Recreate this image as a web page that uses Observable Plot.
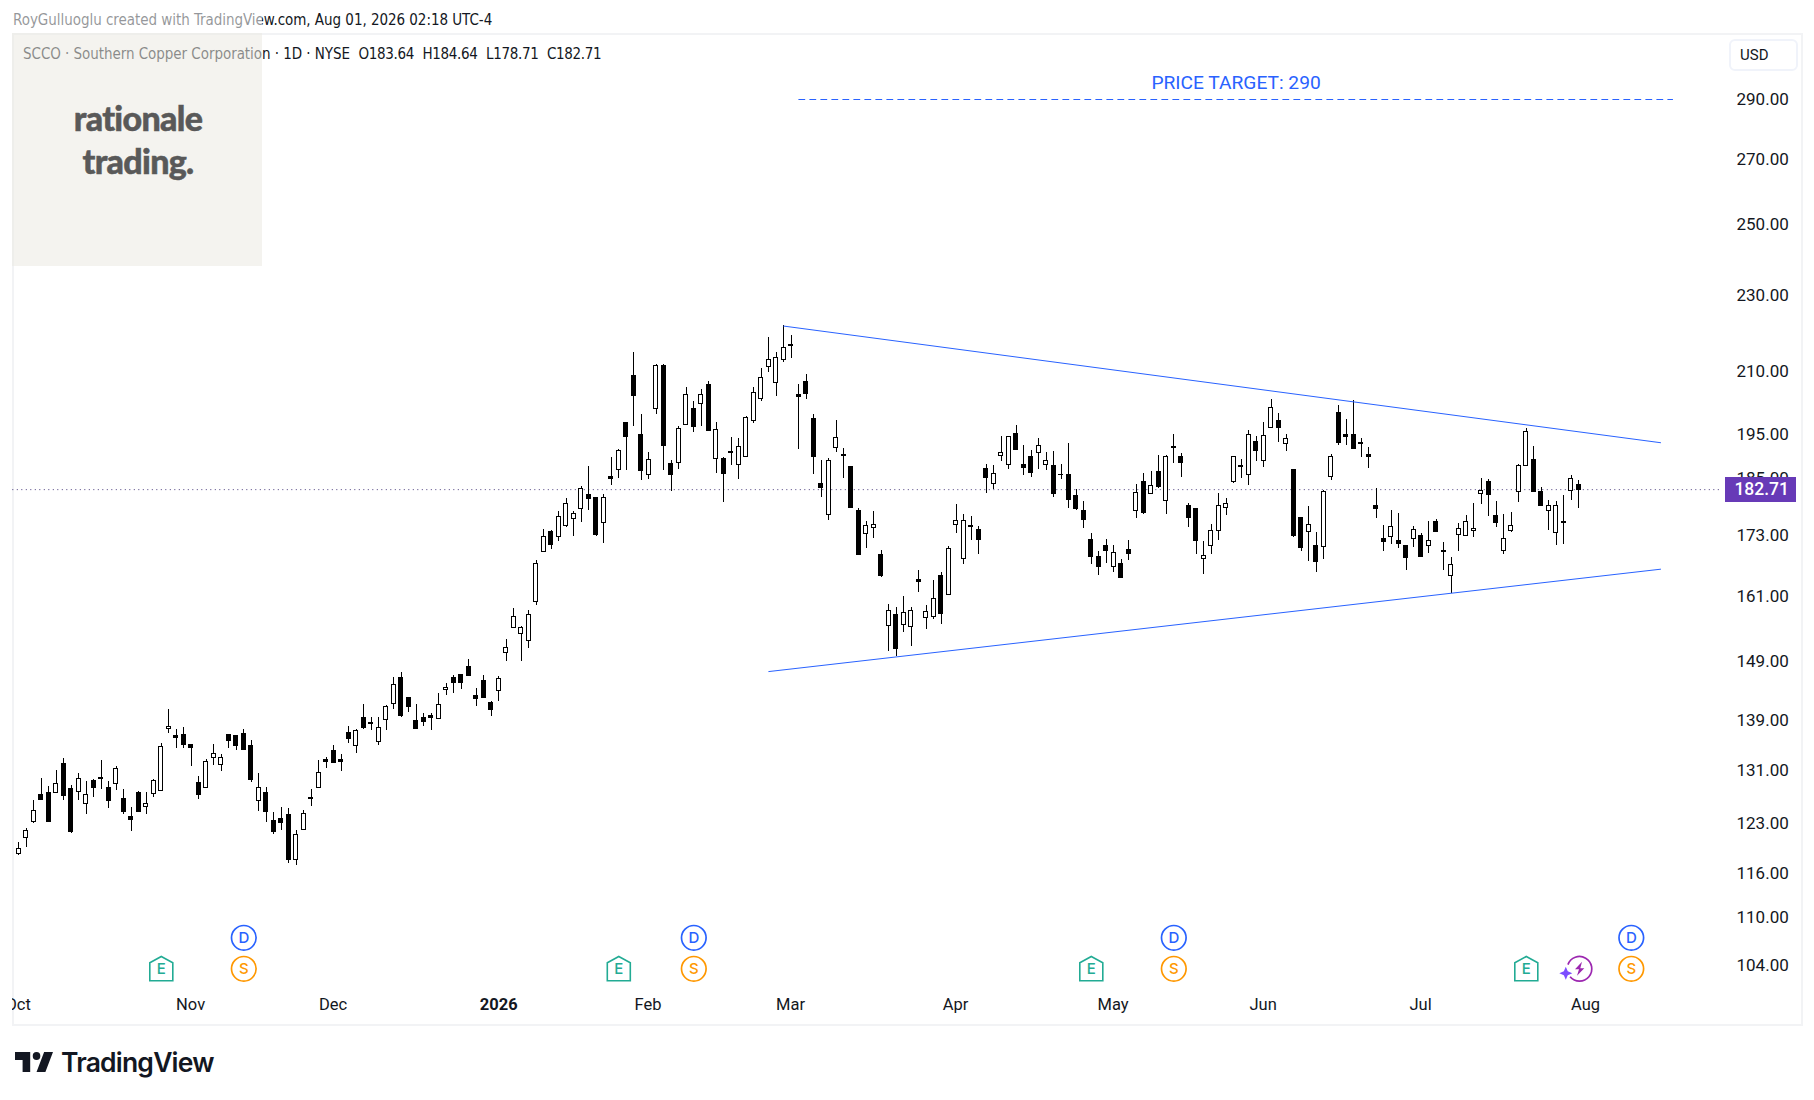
<!DOCTYPE html>
<html><head><meta charset="utf-8">
<script src="https://cdn.jsdelivr.net/npm/d3@7"></script>
<script src="https://cdn.jsdelivr.net/npm/@observablehq/plot@0.6"></script>
<style>
html,body{margin:0;padding:0;background:#fff;width:1814px;height:1100px;overflow:hidden}
#page{position:relative;width:1814px;height:1100px;font-family:Roboto,sans-serif;color:#131722}
#chart{position:absolute;left:0;top:0}
#chart svg{background:transparent;display:block}
.abs{position:absolute;white-space:nowrap}
#pane{position:absolute;left:12px;top:33px;width:1787px;height:989px;border:2px solid #f2f3f5}
#leftmask{position:absolute;left:0;top:980px;width:12px;height:50px;background:#fff}
.v{letter-spacing:-.33px}
</style></head><body><div id="page">
<div id="pane"></div><div id="chart"></div><div id="leftmask"></div>
<div class="abs" id="hdr" style="left:13px;top:11px;font:15px 'DejaVu Sans Condensed','DejaVu Sans';color:#131722;letter-spacing:-.04px">RoyGulluoglu created with TradingView.com, Aug 01, 2026 02:18 UTC-4</div>
<div class="abs" id="leg" style="left:23px;top:45px;font:15px 'DejaVu Sans Condensed','DejaVu Sans';color:#131722;letter-spacing:-.05px">SCCO · Southern Copper Corporation · 1D · NYSE&nbsp; <span class="v">O183.64</span>&nbsp; <span class="v">H184.64</span>&nbsp; <span class="v">L178.71</span>&nbsp; <span class="v">C182.71</span></div>
<div class="abs" style="left:12px;top:0;width:250px;height:33px;background:#fff;opacity:.55"></div>
<div class="abs" style="left:12px;top:33px;width:250px;height:233px;background:#ebe9e2;opacity:.55"></div>
<div class="abs" style="left:13px;top:96px;width:250px;text-align:center;font:900 34px/43px Lato,sans-serif;letter-spacing:-.7px;color:#595959;-webkit-text-stroke:.5px #595959">rationale<br>trading.</div>
<div class="abs" style="left:1729px;top:39px;width:65px;height:28px;border:2px solid #f0f3fa;border-radius:6px;"></div>
<div class="abs" style="left:1740px;top:46px;font:15px Roboto,sans-serif;color:#131722">USD</div>
<div class="abs" style="left:1725px;top:477px;width:71px;height:25px;background:#673ab7;color:#fff;font:500 17.5px/25px Roboto,sans-serif;text-align:right"><span style="margin-right:7px">182.71</span></div>
<svg class="abs" style="left:15px;top:1052px" width="38" height="20" viewBox="2 6 30 15" preserveAspectRatio="none"><path fill="#131722" d="M14 6H2v6h6v9h6V6Zm12 15h-7l6-15h7l-6 15Zm-7-9a3 3 0 1 0 0-6 3 3 0 0 0 0 6Z"/></svg>
<div class="abs" style="left:61px;top:1045px;font:600 26.5px/34px Inter,sans-serif;letter-spacing:-.8px;color:#131722">TradingView</div>
</div>
<script>
const opens=[118.7,121.0,123.2,127.2,127.6,127.5,132.1,128.1,127.7,125.9,
129.4,129.9,128.4,129.0,126.6,124.0,127.6,125.4,127.4,127.9,
137.6,136.4,136.7,135.1,129.1,128.4,133.0,131.9,136.6,136.4,
136.8,134.9,126.3,127.6,123.4,123.7,124.3,117.9,122.1,126.8,
128.4,132.7,134.0,132.7,137.0,134.9,139.5,138.6,135.5,139.1,
141.8,146.2,142.8,139.0,139.5,139.7,139.3,144.2,146.2,146.7,
148.1,143.1,145.7,142.0,144.0,150.6,155.1,154.0,152.8,160.0,
169.8,173.8,172.8,175.1,176.5,178.6,181.6,181.0,175.7,185.5,
187.1,197.8,209.1,195.0,186.0,201.0,211.4,188.4,188.6,197.3,
200.9,202.3,206.9,189.5,189.5,191.1,188.2,189.8,198.2,203.3,
211.3,207.4,213.1,216.8,204.3,207.6,198.7,184.0,177.2,192.0,
190.4,187.7,178.2,173.4,174.5,169.2,155.5,157.5,155.7,155.3,
164.2,157.0,157.2,165.0,161.3,175.3,168.4,175.0,174.2,187.3,
184.0,190.2,188.2,195.2,188.2,190.0,190.7,188.2,188.0,186.0,
186.0,181.4,178.2,172.2,168.8,171.0,166.8,167.4,170.2,178.2,
184.4,181.8,186.6,180.3,192.1,190.0,179.3,178.6,168.4,171.0,
174.0,178.8,184.4,187.8,186.0,193.4,188.9,196.6,198.2,192.9,
186.9,176.7,173.8,171.0,170.8,185.5,200.1,195.0,195.0,193.0,
190.4,179.1,172.4,172.8,172.0,171.0,172.4,173.0,171.0,175.9,
170.0,165.0,173.2,173.0,174.0,181.8,184.4,177.0,170.0,174.0,
182.3,188.0,189.3,182.3,178.2,173.6,175.8,182.5,183.64];
const highs=[120.3,122.3,126.4,129.8,128.6,131.0,132.9,128.7,130.5,129.3,
129.6,132.5,129.3,131.6,128.1,125.4,127.8,127.6,129.6,135.2,
140.9,137.6,137.8,135.1,130.1,132.7,135.1,133.5,136.8,136.4,
137.5,135.7,130.5,128.4,124.6,125.4,125.2,122.0,124.9,128.1,
132.5,133.0,134.9,133.5,138.1,137.5,141.6,139.5,139.5,141.5,
146.2,147.1,142.8,141.6,140.1,140.1,143.6,145.2,146.6,146.7,
149.4,144.3,146.6,142.1,146.4,153.0,158.7,155.3,158.3,168.0,
174.2,174.0,178.1,180.8,178.0,183.3,187.8,181.0,181.6,189.8,
191.6,197.8,214.9,199.7,190.9,211.9,211.9,189.1,196.9,206.2,
202.8,205.7,207.6,197.8,189.8,194.3,194.1,199.2,206.2,210.9,
218.7,214.9,221.8,219.3,206.9,209.4,199.7,189.1,189.5,198.2,
191.8,187.7,178.6,175.9,178.1,170.0,159.4,158.9,161.0,158.9,
166.0,159.2,164.0,165.6,170.8,179.5,177.4,177.0,174.9,188.2,
188.0,194.5,194.5,197.1,192.5,191.3,194.1,190.9,191.1,188.2,
192.9,182.7,180.1,173.4,169.8,172.2,171.0,168.2,172.0,183.8,
186.2,186.6,190.2,190.2,195.0,190.7,179.7,178.6,171.8,175.3,
181.8,180.8,190.0,189.3,195.9,194.5,197.8,203.3,199.9,195.0,
187.1,176.7,179.0,173.6,182.5,190.4,201.8,198.5,203.0,194.1,
192.0,182.9,175.1,178.2,177.6,171.0,174.9,173.4,175.9,176.3,
171.6,168.6,175.5,177.2,179.7,185.1,184.9,180.1,177.4,177.8,
188.2,196.4,192.2,183.1,180.3,180.1,181.4,185.8,184.64];
const lows=[118.4,119.6,123.1,126.5,123.2,127.5,126.5,121.6,126.4,124.3,
126.9,128.1,125.3,128.0,124.4,121.9,124.8,124.4,126.9,127.9,
136.9,134.4,134.4,131.7,126.6,128.4,131.8,130.8,134.5,134.2,
134.2,129.2,124.8,123.2,121.5,122.1,117.3,117.1,122.1,125.6,
128.4,131.4,132.2,130.9,135.2,133.7,137.6,137.4,135.0,137.3,
140.8,139.5,140.3,137.6,138.1,137.3,139.3,143.1,143.6,144.2,
146.5,141.3,142.8,139.6,142.2,149.1,155.0,149.0,151.4,159.2,
169.6,170.3,171.9,174.7,172.9,175.8,178.3,172.9,171.5,183.5,
185.2,187.0,196.8,184.6,185.0,199.6,186.8,182.4,187.2,197.3,
195.4,197.0,195.8,186.3,180.0,187.9,185.0,189.8,197.7,202.8,
210.0,204.1,212.3,213.5,191.7,203.4,186.1,181.1,176.1,190.9,
185.2,178.7,169.1,170.5,172.5,164.7,150.9,149.9,154.2,151.8,
161.7,154.8,156.6,155.8,161.3,173.4,167.3,172.1,169.3,181.8,
182.7,188.8,187.2,191.6,185.7,185.3,187.2,186.8,181.0,184.9,
178.6,178.2,174.4,167.2,165.0,167.5,165.6,164.4,168.1,176.5,
177.4,181.8,183.0,177.5,188.4,185.4,174.8,169.3,165.3,169.3,
172.1,177.3,184.1,185.2,183.7,189.0,187.6,196.4,193.3,191.2,
172.6,169.9,167.9,165.7,168.3,184.8,192.5,192.5,191.8,189.7,
187.4,176.6,169.9,171.2,170.4,166.1,170.7,168.8,169.4,173.6,
166.1,161.5,169.9,173.0,172.7,179.6,176.9,174.6,169.3,173.7,
180.0,188.0,182.0,179.3,174.0,171.1,171.3,180.4,178.71];
const closes=[119.4,122.0,124.9,126.5,123.2,129.0,127.1,121.8,129.7,127.3,
128.3,129.7,126.3,131.3,124.8,123.5,124.8,125.9,129.4,134.7,
138.0,136.1,135.0,134.5,127.2,132.4,133.6,133.0,135.6,134.8,
134.2,129.5,128.4,124.7,121.8,123.1,117.9,121.4,124.5,126.6,
130.7,132.4,132.2,132.4,136.0,137.3,137.8,138.4,137.8,141.3,
145.0,139.8,141.3,137.6,138.7,139.5,141.5,144.5,145.4,145.4,
146.6,142.6,142.8,140.8,146.0,151.5,157.2,155.1,157.5,167.4,
172.8,171.1,176.9,179.7,177.6,182.9,180.8,173.1,181.0,185.1,
191.3,194.4,204.1,186.8,189.3,211.6,192.4,185.9,196.4,204.4,
196.7,204.4,195.8,196.1,186.1,190.9,192.2,199.0,204.9,208.6,
213.1,213.6,216.2,216.6,204.0,204.7,190.0,183.1,188.9,194.3,
190.1,178.7,169.1,175.1,175.3,164.9,158.3,151.2,157.9,158.3,
163.8,158.1,160.6,157.7,170.4,176.1,176.1,174.7,172.2,185.3,
186.2,190.7,194.5,191.6,187.4,186.4,192.5,188.9,181.8,185.8,
180.5,178.6,176.3,168.8,166.8,170.0,169.6,164.6,169.4,182.0,
177.7,183.6,183.3,190.0,191.9,188.6,176.7,172.0,169.0,174.0,
179.1,179.7,190.0,187.6,195.0,191.3,194.8,201.3,196.6,194.1,
173.0,170.6,175.3,167.8,182.3,189.8,193.1,194.5,191.8,192.8,
189.9,178.5,171.8,174.7,171.4,168.6,174.2,168.8,172.0,173.8,
169.8,167.2,174.4,175.9,174.4,182.5,181.6,175.7,172.4,175.1,
188.0,195.5,182.3,179.3,179.3,179.1,175.6,185.1,182.71];

const priceTicks=[290,270,250,230,210,195,185,173,161,149,139,131,123,116,110,104];
const monthIdx=[0,23,42,84,103,125,146,166,187,209];
const monthLabels=["Oct","Nov","Dec","Feb","Mar","Apr","May","Jun","Jul","Aug"];
const yearIdx=[64];
const yearLabels=["2026"];
const upperLine=[{i:102,p:221.75},{i:218.9,p:193.15}];
const lowerLine=[{i:100,p:147.3},{i:218.9,p:166.28}];
const targetLine=[{i:104,p:290},{i:220.5,p:290}];
const targetLabel=[{i:162.3,p:295.9,t:"PRICE TARGET: 290"}];
const lastPrice=[182.71];
const earningsIdx=[19,80,143,201];
const dividendIdx=[30,90,154,215];
const flashIdx=[208];

const rows=opens.map((o,i)=>({i,o,h:highs[i],l:lows[i],c:closes[i]}));
const black="#000";
const ff="Roboto,sans-serif";
const house={draw(ctx,size){const r=Math.sqrt(size/Math.PI),k=r/12;
 ctx.moveTo(0,-12.3*k);ctx.lineTo(11.5*k,-6*k);ctx.lineTo(11.5*k,12*k);ctx.lineTo(-11.5*k,12*k);ctx.lineTo(-11.5*k,-6*k);ctx.closePath();}};
const arcGap={draw(ctx,size){const r=Math.sqrt(size/Math.PI);ctx.arc(0,0,r,(200/180)*Math.PI,(500/180)*Math.PI);}};
const bolt={draw(ctx,size){const r=Math.sqrt(size/Math.PI),k=r/7;
 ctx.moveTo(2.5*k,-7*k);ctx.lineTo(-4.5*k,0.5*k);ctx.lineTo(-0.5*k,0.5*k);ctx.lineTo(-2.5*k,7*k);ctx.lineTo(4.8*k,-0.6*k);ctx.lineTo(0.8*k,-0.6*k);ctx.closePath();}};
const spark={draw(ctx,size){const r=Math.sqrt(size/Math.PI),q=r*0.3;
 ctx.moveTo(0,-r);ctx.lineTo(q,-q);ctx.lineTo(r,0);ctx.lineTo(q,q);ctx.lineTo(0,r);ctx.lineTo(-q,q);ctx.lineTo(-r,0);ctx.lineTo(-q,-q);ctx.closePath();}};

const chart=Plot.plot({
 width:1814,height:1100,marginLeft:0,marginTop:0,marginRight:78,marginBottom:102,
 style:{fontFamily:ff,background:"transparent"},
 x:{domain:[0,208],range:[18.3,1578.3]},
 y:{type:"log",domain:[104,290],range:[965,99]},
 marks:[
  Plot.axisY({anchor:"right",ticks:priceTicks,tickSize:0,tickPadding:0,dy:-0.2,tickFormat:d=>d.toFixed(2),label:null,fontSize:17,fill:"#131722",fontFamily:ff}),
  Plot.axisX({anchor:"bottom",ticks:monthIdx,tickSize:0,tickPadding:0,dx:-0.7,tickFormat:d=>monthLabels[monthIdx.indexOf(d)],label:null,fontSize:16.5,fill:"#131722",fontFamily:ff}),
  Plot.axisX({anchor:"bottom",ticks:yearIdx,tickSize:0,tickPadding:0,tickFormat:d=>yearLabels[yearIdx.indexOf(d)],label:null,fontSize:16.5,fontWeight:700,fill:"#131722",fontFamily:ff}),
  Plot.ruleY(lastPrice,{x1:-0.8,x2:227.2,stroke:"#4b3d7d",strokeWidth:1,strokeDasharray:"1,3.5"}),
  Plot.ruleX(rows,{x:"i",y1:"l",y2:"h",stroke:black,strokeWidth:1,shapeRendering:"crispEdges"}),
  Plot.rect(rows,{x1:d=>d.i-0.25,x2:d=>d.i+0.25,y1:"o",y2:"c",fill:d=>d.c>d.o?"#fff":black,stroke:black,strokeWidth:1,shapeRendering:"crispEdges"}),
  Plot.line(upperLine,{x:"i",y:"p",stroke:"#2962ff",strokeWidth:1}),
  Plot.line(lowerLine,{x:"i",y:"p",stroke:"#2962ff",strokeWidth:1}),
  Plot.line(targetLine,{x:"i",y:"p",stroke:"#2962ff",strokeWidth:1,strokeDasharray:"6,5"}),
  Plot.text(targetLabel,{x:"i",y:"p",text:"t",fill:"#2962ff",fontSize:19.2,fontFamily:ff}),
  Plot.dot(earningsIdx,{x:d=>d,frameAnchor:"bottom",dy:-29.7,symbol:house,r:12,stroke:"#22ab94",strokeWidth:1.6,fill:"#fff"}),
  Plot.text(earningsIdx,{x:d=>d,frameAnchor:"bottom",dy:-29,lineAnchor:"middle",text:()=>"E",fill:"#22ab94",fontSize:15,fontWeight:500,fontFamily:"Inter,sans-serif"}),
  Plot.dot(dividendIdx,{x:d=>d,frameAnchor:"bottom",dy:-60.7,r:12.3,stroke:"#2962ff",strokeWidth:1.7,fill:"#fff"}),
  Plot.text(dividendIdx,{x:d=>d,frameAnchor:"bottom",dy:-60.7,lineAnchor:"middle",text:()=>"D",fill:"#2962ff",fontSize:15,fontWeight:500,fontFamily:"Inter,sans-serif"}),
  Plot.dot(dividendIdx,{x:d=>d,frameAnchor:"bottom",dy:-29.7,r:12.3,stroke:"#ff9800",strokeWidth:1.7,fill:"#fff"}),
  Plot.text(dividendIdx,{x:d=>d,frameAnchor:"bottom",dy:-29.7,lineAnchor:"middle",text:()=>"S",fill:"#ff9800",fontSize:15,fontWeight:500,fontFamily:"Inter,sans-serif"}),
  Plot.dot(flashIdx,{x:d=>d,dx:0.7,frameAnchor:"bottom",dy:-29.7,symbol:arcGap,r:12.3,stroke:"#9c27b0",strokeWidth:1.7,fill:"none"}),
  Plot.dot(flashIdx,{x:d=>d,dx:0.7,frameAnchor:"bottom",dy:-29.7,symbol:bolt,r:7,fill:"#9c27b0",stroke:"none"}),
  Plot.dot(flashIdx,{x:d=>d,dx:-13,frameAnchor:"bottom",dy:-25.3,symbol:spark,r:6.5,fill:"#7c4dff",stroke:"none"})
 ]
});
document.getElementById("chart").append(chart);
</script></body></html>
